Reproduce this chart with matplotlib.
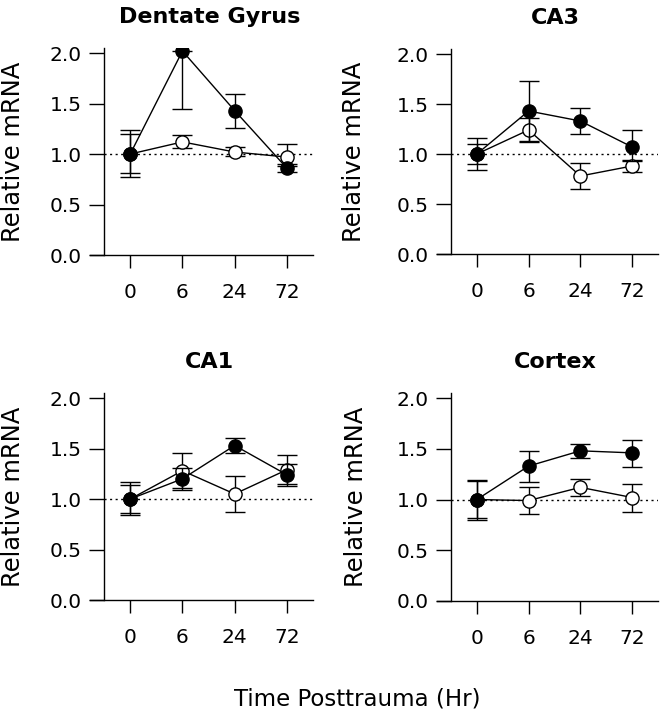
import numpy as np
import matplotlib
matplotlib.use('Agg')
import matplotlib.pyplot as plt

plt.rcParams['font.family'] = ['DejaVu Sans']

time_labels = ['0', '6', '24', '72']
panel_titles = ['Dentate Gyrus', 'CA3', 'CA1', 'Cortex']

# filled circles (mean, lower bound, upper bound of error bar)
filled_mean = [[1.00, 2.02, 1.43, 0.86],
               [1.00, 1.43, 1.33, 1.07],
               [1.00, 1.20, 1.53, 1.24],
               [1.00, 1.33, 1.48, 1.46]]
filled_lo = [[0.77, 1.45, 1.26, 0.82],
             [0.84, 1.13, 1.20, 0.93],
             [0.84, 1.09, 1.46, 1.13],
             [0.80, 1.17, 1.41, 1.32]]
filled_hi = [[1.24, 2.02, 1.59, 0.90],
             [1.16, 1.73, 1.46, 1.24],
             [1.17, 1.31, 1.60, 1.35],
             [1.19, 1.48, 1.55, 1.59]]

# open circles
open_mean = [[1.00, 1.12, 1.02, 0.97],
             [1.00, 1.24, 0.78, 0.88],
             [1.00, 1.28, 1.05, 1.29],
             [1.00, 0.99, 1.12, 1.02]]
open_lo = [[0.81, 1.06, 0.98, 0.88],
           [0.90, 1.12, 0.65, 0.82],
           [0.86, 1.11, 0.87, 1.15],
           [0.82, 0.86, 1.03, 0.88]]
open_hi = [[1.20, 1.19, 1.07, 1.10],
           [1.10, 1.36, 0.91, 0.94],
           [1.14, 1.46, 1.23, 1.44],
           [1.18, 1.12, 1.20, 1.15]]

W, H = 666, 720
# axes boxes in pixels: left, right, top, bottom
boxes = [(90, 313, 48, 255), (437, 658, 49, 254),
         (90, 313, 393, 600), (437, 658, 393, 601)]
ylabel_x = [-0.29, -0.32, -0.29, -0.31]

fig = plt.figure(figsize=(W / 100, H / 100), dpi=100)
x = np.arange(len(time_labels))

for i, (l, r, t, b) in enumerate(boxes):
    ax = fig.add_axes([l / W, 1 - b / H, (r - l) / W, (b - t) / H])
    ax.axhline(1.0, xmin=0.27 / 4.27, xmax=1, color='black', ls=(0, (1.5, 2.5)), lw=1.0, zorder=1)

    om = np.array(open_mean[i])
    ax.errorbar(x, om, yerr=[om - np.array(open_lo[i]), np.array(open_hi[i]) - om],
                fmt='-o', color='black', mfc='white', mec='black', mew=1.0, ms=9.5,
                lw=1.0, elinewidth=1.0, capsize=7.5, capthick=1.0, zorder=3)
    fm = np.array(filled_mean[i])
    ax.errorbar(x, fm, yerr=[fm - np.array(filled_lo[i]), np.array(filled_hi[i]) - fm],
                fmt='-o', color='black', mfc='black', mec='black', ms=9.5,
                lw=1.0, elinewidth=1.0, capsize=7.5, capthick=1.0, zorder=4)

    ax.set_xlim(-0.77, 3.5)
    ax.set_ylim(0, 2.05)
    ax.spines['left'].set_position(('data', -0.5))
    ax.spines['top'].set_visible(False)
    ax.spines['right'].set_visible(False)
    for s in ('left', 'bottom'):
        ax.spines[s].set_linewidth(1.0)
    ax.set_xticks(x)
    ax.set_xticklabels(time_labels)
    ax.set_yticks([0.0, 0.5, 1.0, 1.5, 2.0])
    ax.set_yticklabels(['0.0', '0.5', '1.0', '1.5', '2.0'])
    ax.tick_params(axis='y', direction='out', length=11, width=1.0, pad=5, labelsize=14.5)
    ax.tick_params(axis='x', direction='out', length=9.5, width=1.0, pad=11, labelsize=14.5)
    ax.set_ylabel('Relative mRNA', fontsize=17.5)
    ax.yaxis.set_label_coords(ylabel_x[i], 0.5)
    ax.set_title(panel_titles[i], fontsize=16, fontweight='bold', x=0.535, pad=18)

fig.text(357 / W, 1 - 706 / H, 'Time Posttrauma (Hr)', ha='center', va='baseline', fontsize=16.5)

plt.savefig('out.png', dpi=100)
